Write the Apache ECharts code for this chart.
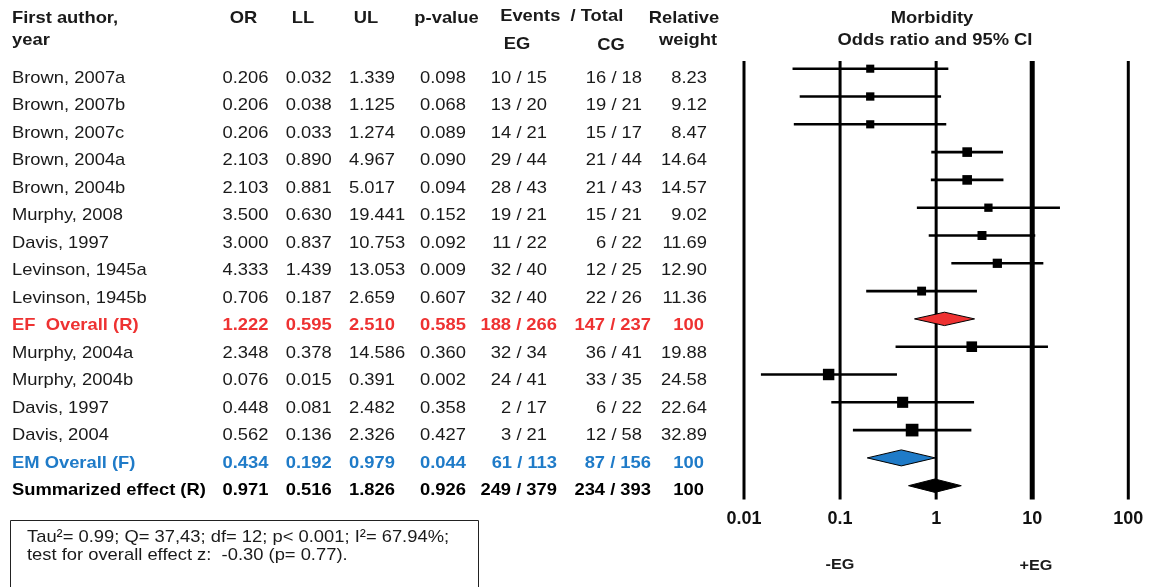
<!DOCTYPE html>
<html>
<head>
<meta charset="utf-8">
<script src="https://cdn.jsdelivr.net/npm/echarts@6/dist/echarts.min.js"></script>
<style>
html,body{margin:0;padding:0;background:#fff;}
#chart{width:1151px;height:587px;}
</style>
</head>
<body>
<div id="chart"></div>
<script>
// ---------- data ----------
var authors = ['Brown, 2007a','Brown, 2007b','Brown, 2007c','Brown, 2004a','Brown, 2004b','Murphy, 2008','Davis, 1997','Levinson, 1945a','Levinson, 1945b','EF  Overall (R)','Murphy, 2004a','Murphy, 2004b','Davis, 1997','Davis, 2004','EM Overall (F)','Summarized effect (R)'];
var rowTypes = ['study','study','study','study','study','study','study','study','study','ef','study','study','study','study','em','sum'];
var orVals = [0.206,0.206,0.206,2.103,2.103,3.500,3.000,4.333,0.706,1.222,2.348,0.076,0.448,0.562,0.434,0.971];
var llVals = [0.032,0.038,0.033,0.890,0.881,0.630,0.837,1.439,0.187,0.595,0.378,0.015,0.081,0.136,0.192,0.516];
var ulVals = [1.339,1.125,1.274,4.967,5.017,19.441,10.753,13.053,2.659,2.510,14.586,0.391,2.482,2.326,0.979,1.826];
var pVals  = [0.098,0.068,0.089,0.090,0.094,0.152,0.092,0.009,0.607,0.585,0.360,0.002,0.358,0.427,0.044,0.926];
var egEvents = ['10 / 15','13 / 20','14 / 21','29 / 44','28 / 43','19 / 21','11 / 22','32 / 40','32 / 40','188 / 266','32 / 34','24 / 41','2 / 17','3 / 21','61 / 113','249 / 379'];
var cgEvents = ['16 / 18','19 / 21','15 / 17','21 / 44','21 / 43','15 / 21','6 / 22','12 / 25','22 / 26','147 / 237','36 / 41','33 / 35','6 / 22','12 / 58','87 / 156','234 / 393'];
var weights = [8.23,9.12,8.47,14.64,14.57,9.02,11.69,12.90,11.36,100,19.88,24.58,22.64,32.89,100,100];
var tickValues = [0.01,0.1,1,10,100];
var tickLabels = ['0.01','0.1','1','10','100'];
var statsLines = ['Tau\u00b2= 0.99; Q= 37,43; df= 12; p< 0.001; I\u00b2= 67.94%;','test for overall effect z:  -0.30 (p= 0.77).'];

// ---------- styles ----------
var FONT = 'Liberation Sans, Arial, sans-serif';
var FS = 17, SX = 1.08;
var TXT = '#1a1a1a';
var colorFor = {study: TXT, ef: '#EE3232', em: '#1F7BC8', sum: '#000'};
var diamondFill = {ef: '#EE3232', em: '#1F7BC8', sum: '#000'};
var nRows = authors.length;

function txt(x, y, s, opt) {
  opt = opt || {};
  return {
    type: 'text', x: x, y: y, scaleX: SX, scaleY: 1,
    style: {
      text: s, fill: opt.fill || TXT, fontSize: opt.size || FS,
      fontWeight: opt.bold ? 'bold' : 'normal', fontFamily: FONT,
      align: opt.align || 'left', verticalAlign: 'middle'
    },
    z: 10
  };
}

var chart = echarts.init(document.getElementById('chart'), null, {renderer: 'canvas'});

var tableData = authors.map(function (a, i) { return [0, i]; });
var plotData = authors.map(function (a, i) { return [orVals[i], i + 0.5]; });
var vlineData = tickValues.map(function (v) { return [v, 0]; });

var option = {
  animation: false,
  backgroundColor: '#fff',
  grid: [
    {left: 744, right: 22.7, top: 54.8, height: 444.8},
    {left: 0, width: 740, top: 64.6, height: 439.5}
  ],
  xAxis: [
    {
      type: 'log', logBase: 10, min: 0.01, max: 100, gridIndex: 0,
      axisLine: {show: false}, axisTick: {show: false}, splitLine: {show: false},
      axisLabel: {
        margin: 10, fontSize: 18, fontWeight: 'bold', color: '#111', fontFamily: FONT,
        formatter: function (v) { return tickLabels[Math.round(Math.log10(v)) + 2]; }
      }
    },
    {type: 'value', min: 0, max: 740, gridIndex: 1, show: false}
  ],
  yAxis: [
    {type: 'value', min: 0, max: nRows, inverse: true, gridIndex: 0, show: false},
    {type: 'value', min: -0.5, max: nRows - 0.5, inverse: true, gridIndex: 1, show: false}
  ],
  graphic: [
    txt(12, 18, 'First author,', {bold: true}),
    txt(12, 40, 'year', {bold: true}),
    txt(243.5, 18, 'OR', {bold: true, align: 'center'}),
    txt(303, 18, 'LL', {bold: true, align: 'center'}),
    txt(366, 18, 'UL', {bold: true, align: 'center'}),
    txt(446.5, 18, 'p-value', {bold: true, align: 'center'}),
    txt(561.7, 16, 'Events  / Total', {bold: true, align: 'center'}),
    txt(517, 44, 'EG', {bold: true, align: 'center'}),
    txt(611, 45, 'CG', {bold: true, align: 'center'}),
    txt(684, 18, 'Relative', {bold: true, align: 'center'}),
    txt(688, 40, 'weight', {bold: true, align: 'center'}),
    txt(932, 18, 'Morbidity', {bold: true, align: 'center'}),
    txt(935, 40, 'Odds ratio and 95% CI', {bold: true, align: 'center'}),
    txt(840, 565, '-EG', {bold: true, align: 'center', size: 15}),
    txt(1036, 566, '+EG', {bold: true, align: 'center', size: 15}),
    {type: 'rect', shape: {x: 10.5, y: 520.5, width: 468, height: 90}, style: {fill: 'none', stroke: '#222', lineWidth: 1}},
    txt(27, 537, statsLines[0]),
    txt(27, 555, statsLines[1])
  ],
  series: [
    {
      // reference vertical lines
      type: 'custom', xAxisIndex: 0, yAxisIndex: 0, data: vlineData, clip: false, z: 1,
      renderItem: function (params, api) {
        var v = tickValues[params.dataIndex];
        var a = api.coord([v, 0.22]);
        var b = api.coord([v, nRows]);
        return {
          type: 'line', shape: {x1: a[0], y1: a[1], x2: b[0], y2: b[1]},
          style: {stroke: '#000', lineWidth: v === 10 ? 5 : 3}
        };
      }
    },
    {
      // forest marks
      type: 'custom', xAxisIndex: 0, yAxisIndex: 0, data: plotData, clip: false, z: 3,
      renderItem: function (params, api) {
        var i = params.dataIndex;
        var row = i + 0.5;
        var p = api.coord([orVals[i], row]);
        var l = api.coord([llVals[i], row]);
        var u = api.coord([ulVals[i], row]);
        var t = rowTypes[i];
        if (t === 'study') {
          var s = 3.5 + 1.6 * Math.sqrt(weights[i]);
          return {
            type: 'group', children: [
              {type: 'line', shape: {x1: l[0], y1: p[1], x2: u[0], y2: p[1]}, style: {stroke: '#000', lineWidth: 2.6}},
              {type: 'rect', shape: {x: p[0] - s / 2, y: p[1] - s / 2, width: s, height: s}, style: {fill: '#000'}}
            ]
          };
        }
        var h = t === 'em' ? 8 : 6.7;
        return {
          type: 'polygon',
          shape: {points: [[l[0], p[1]], [p[0], p[1] - h], [u[0], p[1]], [p[0], p[1] + h]]},
          style: {fill: diamondFill[t], stroke: '#000', lineWidth: 1}
        };
      }
    },
    {
      // table text
      type: 'custom', xAxisIndex: 1, yAxisIndex: 1, data: tableData, clip: false, z: 5,
      renderItem: function (params, api) {
        var i = params.dataIndex;
        var t = rowTypes[i];
        var bold = t !== 'study';
        var col = colorFor[t];
        function at(x) { return api.coord([x, i]); }
        var o = {fill: col, bold: bold};
        function cell(x, s, align) {
          var c = at(x);
          return txt(c[0], c[1], s, {fill: col, bold: bold, align: align});
        }
        var wStr = weights[i] === 100 ? '100' : weights[i].toFixed(2);
        return {
          type: 'group', children: [
            cell(12, authors[i], 'left'),
            cell(222.5, orVals[i].toFixed(3), 'left'),
            cell(285.7, llVals[i].toFixed(3), 'left'),
            cell(349, ulVals[i].toFixed(3), 'left'),
            cell(420, pVals[i].toFixed(3), 'left'),
            cell(bold ? 557 : 547, egEvents[i], 'right'),
            cell(bold ? 651 : 642, cgEvents[i], 'right'),
            cell(bold ? 704 : 707, wStr, 'right')
          ]
        };
      }
    }
  ]
};
chart.setOption(option);
</script>
</body>
</html>
